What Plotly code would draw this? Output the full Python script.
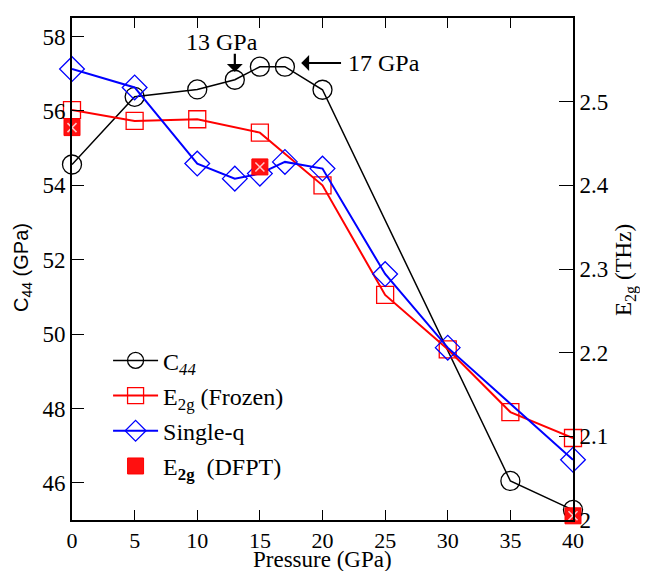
import plotly.graph_objects as go

# ---- data ----
p_c44 = [0, 5, 10, 13, 15, 17, 20, 35, 40]
c44 = [54.56, 56.38, 56.58, 56.84, 57.19, 57.19, 56.57, 46.05, 45.27]

p_frozen = [0, 5, 10, 15, 20, 25, 30, 35, 40]
e2g_frozen = [2.490, 2.477, 2.479, 2.463, 2.400, 2.269, 2.204, 2.129, 2.098]

p_single = [0, 5, 10, 13, 15, 17, 20, 25, 30, 40]
e2g_single = [2.539, 2.517, 2.426, 2.408, 2.414, 2.428, 2.420, 2.294, 2.206, 2.072]

p_dfpt = [0, 15, 40]
e2g_dfpt = [2.469, 2.422, 2.005]

x_ticks = [0, 5, 10, 15, 20, 25, 30, 35, 40]
y_ticks = [46, 48, 50, 52, 54, 56, 58]
y2_ticks = [2.0, 2.1, 2.2, 2.3, 2.4, 2.5, 2.6]
y2_ticklabels = ["2", "2.1", "2.2", "2.3", "2.4", "2.5", "2.6"]

SERIF = "Times"
SANS = "Liberation Sans"
fig = go.Figure()

fig.add_trace(go.Scatter(
    x=p_frozen, y=e2g_frozen, yaxis="y2", mode="lines+markers",
    name="E<sub>2g</sub> (Frozen)", legendrank=2, legendgroup="g2", cliponaxis=False,
    line=dict(color="#ff0000", width=2),
    marker=dict(symbol="square-open", size=17, color="#ff0000", line=dict(width=1.3)),
))
fig.add_trace(go.Scatter(
    x=p_single, y=e2g_single, yaxis="y2", mode="lines+markers",
    name="Single-q", legendrank=3, legendgroup="g3", cliponaxis=False,
    line=dict(color="#0000ff", width=2),
    marker=dict(symbol="diamond-open", size=19, color="#0000ff", line=dict(width=1.3)),
))
fig.add_trace(go.Scatter(
    x=p_c44, y=c44, mode="lines+markers",
    name="C<sub><i>44</i></sub>", legendrank=1, legendgroup="g1", cliponaxis=False,
    line=dict(color="#000000", width=1.5),
    marker=dict(symbol="circle-open", size=19, color="#000000", line=dict(width=1.3)),
))
fig.add_trace(go.Scatter(
    x=p_dfpt, y=e2g_dfpt, yaxis="y2", mode="markers",
    name="E<sub><b>2g</b></sub>  (DFPT)", legendrank=4, legendgroup="g4", cliponaxis=False,
    marker=dict(symbol="square", size=16, color="#ff1010", line=dict(color="#ff0000", width=1)),
))
fig.add_trace(go.Scatter(
    x=p_dfpt, y=e2g_dfpt, yaxis="y2", mode="markers", showlegend=False, cliponaxis=False,
    hoverinfo="skip",
    marker=dict(symbol="x-thin-open", size=9, color="#ffc8c8", line=dict(color="#ffc8c8", width=1.5)),
))

axis_common = dict(
    showline=True, linecolor="black", linewidth=2,
    ticks="inside", tickcolor="black", tickwidth=1.2,
    showgrid=False, zeroline=False, automargin=False,
)

fig.update_layout(
    width=640, height=563,
    margin=dict(l=64, r=75, t=10, b=51, autoexpand=False),
    paper_bgcolor="white", plot_bgcolor="white",
    showlegend=True,
    legend=dict(
        x=0.072, y=0.362, xanchor="left", yanchor="top",
        bgcolor="rgba(0,0,0,0)", borderwidth=0,
        font=dict(family=SERIF, size=24, color="black"),
        tracegroupgap=1, itemwidth=45,
    ),
    xaxis=dict(range=[0, 40], tickvals=x_ticks, ticklen=10, mirror="ticks",
               tickfont=dict(family=SERIF, size=22, color="black"), **axis_common),
    yaxis=dict(range=[45, 58.5], tickvals=y_ticks, ticklen=12,
               tickfont=dict(family=SERIF, size=23, color="black"), **axis_common),
    yaxis2=dict(
        range=[2.0, 2.6], tickvals=y2_ticks, ticktext=y2_ticklabels, ticklen=14,
        overlaying="y", side="right",
        tickfont=dict(family=SERIF, size=23, color="black"), **axis_common,
    ),
)

# axis titles
fig.add_annotation(x=0.5, y=-(559 - 520) / 502.0, xref="paper", yref="paper", text="Pressure (GPa)",
                   showarrow=False, yanchor="middle",
                   font=dict(family=SERIF, size=23, color="black"))
fig.add_annotation(x=-(72 - 22) / 501.0, y=(520 - 268) / 502.0, xref="paper", yref="paper",
                   text="C<sub>44</sub> (GPa)", showarrow=False, textangle=-90,
                   xanchor="center", yanchor="middle",
                   font=dict(family=SANS, size=20, color="black"))
fig.add_annotation(x=1 + (625 - 573) / 501.0, y=(520 - 270) / 502.0, xref="paper", yref="paper",
                   text="E<sub>2g</sub> (THz)", showarrow=False, textangle=-90,
                   xanchor="center", yanchor="middle",
                   font=dict(family=SERIF, size=23, color="black"))

# arrows and labels
fig.add_annotation(x=13, y=57.05, ax=13, ay=57.58, xref="x", yref="y", axref="x", ayref="y",
                   text="", showarrow=True, arrowhead=1, arrowsize=1.2, arrowwidth=2.2, arrowcolor="black")
fig.add_annotation(x=12.0, y=57.85, xref="x", yref="y", text="13 GPa", showarrow=False,
                   font=dict(family=SERIF, size=24, color="black"))
fig.add_annotation(x=18.3, y=57.29, ax=21.6, ay=57.29, xref="x", yref="y", axref="x", ayref="y",
                   text="", showarrow=True, arrowhead=1, arrowsize=1.2, arrowwidth=2.2, arrowcolor="black")
fig.add_annotation(x=21.9, y=57.29, xref="x", yref="y", text="17 GPa", showarrow=False,
                   xanchor="left", font=dict(family=SERIF, size=24, color="black"))

fig.write_html("out.html")
